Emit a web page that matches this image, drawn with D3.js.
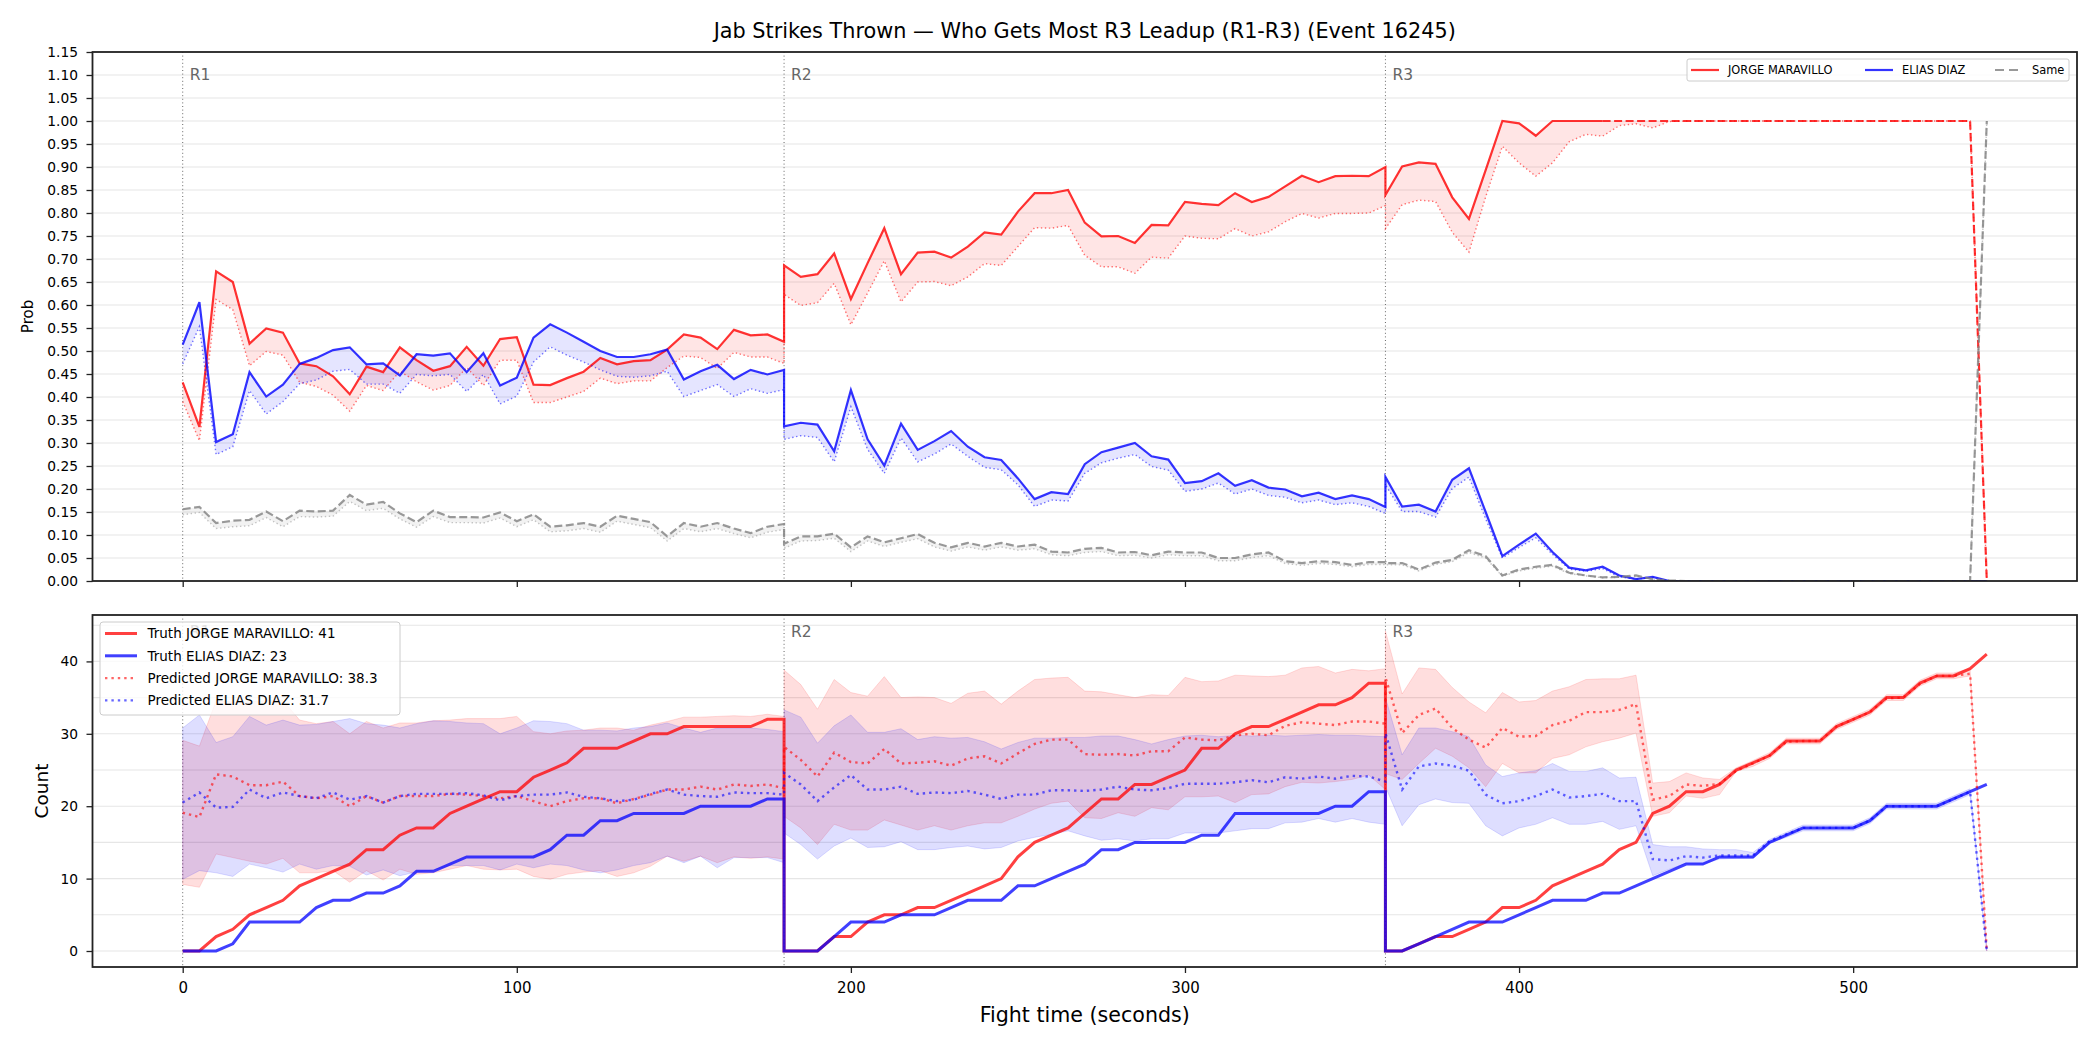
<!DOCTYPE html>
<html>
<head>
<meta charset="utf-8">
<script src="https://cdn.jsdelivr.net/npm/d3@7"></script>
<style>
  body { margin: 0; background: #fff; }
  svg { display: block; font-family: "DejaVu Sans", sans-serif; }
</style>
</head>
<body>
<svg id="chart" width="2100" height="1050"></svg>
<script>
// ---- data ----
var titleText = "Jab Strikes Thrown \u2014 Who Gets Most R3 Leadup (R1-R3) (Event 16245)";
var fighters = ["JORGE MARAVILLO", "ELIAS DIAZ"];
var truthFinal = [41, 23];
var predFinal = [38.3, 31.7];

var roundStart = [0, 180, 360];
var roundNames = ["R1", "R2", "R3"];
var secInRound = [0,5,10,15,20,25,30,35,40,45,50,55,60,65,70,75,80,85,90,95,100,105,110,115,120,125,130,135,140,145,150,155,160,165,170,175,180];
var xTicks = [0, 100, 200, 300, 400, 500];
var probTicks = [0,0.05,0.1,0.15,0.2,0.25,0.3,0.35,0.4,0.45,0.5,0.55,0.6,0.65,0.7,0.75,0.8,0.85,0.9,0.95,1,1.05,1.1,1.15];
var countTicks = [0, 10, 20, 30, 40];
var countGrid = [0, 5, 10, 15, 20, 25, 30, 35, 40, 45];
var redSolidUntil = 425;   // after this the red prob line is drawn dashed

// top panel: win probability (solid/dashed) and predicted (dotted), one line per round
var redProb = [
  0.432,0.335,0.673,0.650,0.516,0.549,0.540,0.473,0.467,0.445,0.406,0.466,0.454,0.508,0.480,0.457,0.467,0.509,0.468,0.526,0.530,0.427,0.426,0.441,0.455,0.485,0.471,0.478,0.480,0.503,0.536,0.529,0.504,0.546,0.534,0.536,0.520,
  0.686,0.661,0.667,0.712,0.613,0.691,0.767,0.667,0.714,0.716,0.703,0.727,0.758,0.753,0.803,0.843,0.843,0.850,0.779,0.749,0.750,0.735,0.774,0.773,0.824,0.820,0.817,0.843,0.824,0.835,0.858,0.881,0.867,0.880,0.881,0.880,0.900,
  0.839,0.901,0.910,0.907,0.834,0.787,0.893,1,0.995,0.968,1,1,1,1,1,1,1,1,1,1,1,1,1,1,1,1,1,1,1,1,1,1,1,1,1,1,0];
var redProbPred = [
  0.390,0.305,0.612,0.590,0.468,0.499,0.491,0.432,0.423,0.404,0.369,0.425,0.414,0.456,0.433,0.415,0.425,0.464,0.425,0.480,0.480,0.388,0.388,0.400,0.412,0.441,0.429,0.435,0.435,0.464,0.489,0.486,0.462,0.497,0.487,0.487,0.473,
  0.623,0.599,0.605,0.647,0.557,0.626,0.696,0.607,0.650,0.651,0.642,0.661,0.690,0.686,0.727,0.768,0.767,0.773,0.708,0.683,0.683,0.669,0.704,0.702,0.750,0.745,0.744,0.766,0.750,0.759,0.781,0.799,0.789,0.799,0.799,0.800,0.816,
  0.766,0.818,0.828,0.825,0.758,0.715,0.835,0.945,0.909,0.880,0.909,0.955,0.971,0.967,0.990,0.994,0.985,0.999,1,1,1,1,1,1,1,1,1,1,1,1,1,1,1,1,1,1,0];
var blueProb = [
  0.514,0.606,0.302,0.319,0.454,0.401,0.427,0.472,0.485,0.502,0.508,0.471,0.473,0.447,0.493,0.490,0.495,0.454,0.495,0.425,0.442,0.529,0.558,0.540,0.520,0.500,0.487,0.487,0.493,0.503,0.438,0.456,0.470,0.439,0.459,0.449,0.459,
  0.336,0.344,0.340,0.282,0.415,0.308,0.251,0.342,0.285,0.304,0.326,0.292,0.269,0.263,0.223,0.178,0.193,0.189,0.254,0.280,0.290,0.300,0.271,0.264,0.213,0.217,0.234,0.207,0.219,0.203,0.199,0.184,0.192,0.178,0.186,0.178,0.161,
  0.226,0.162,0.166,0.151,0.220,0.245,0.150,0.054,0.079,0.103,0.063,0.029,0.023,0.031,0.012,0.004,0.009,0,0,0,0,0,0,0,0,0,0,0,0,0,0,0,0,0,0,0,0];
var blueProbPred = [
  0.472,0.553,0.275,0.292,0.414,0.363,0.390,0.429,0.437,0.456,0.460,0.428,0.428,0.408,0.449,0.446,0.449,0.412,0.449,0.385,0.402,0.476,0.509,0.491,0.476,0.459,0.445,0.443,0.446,0.456,0.401,0.414,0.427,0.401,0.418,0.408,0.416,
  0.308,0.316,0.312,0.259,0.379,0.286,0.234,0.311,0.259,0.276,0.298,0.271,0.247,0.242,0.209,0.162,0.176,0.174,0.234,0.257,0.267,0.275,0.249,0.241,0.195,0.200,0.213,0.189,0.200,0.186,0.182,0.170,0.176,0.166,0.170,0.162,0.147,
  0.209,0.151,0.151,0.139,0.201,0.226,0.135,0.050,0.073,0.094,0.058,0.026,0.021,0.027,0.009,0.004,0.008,0,0,0,0,0,0,0,0,0,0,0,0,0,0,0,0,0,0,0,0];
var sameProb = [
  0.156,0.161,0.126,0.131,0.133,0.151,0.130,0.153,0.151,0.153,0.187,0.166,0.172,0.147,0.128,0.153,0.139,0.139,0.138,0.149,0.130,0.145,0.118,0.121,0.126,0.118,0.142,0.135,0.128,0.097,0.126,0.118,0.126,0.114,0.104,0.118,0.124,
  0.081,0.097,0.097,0.103,0.073,0.097,0.084,0.093,0.102,0.083,0.073,0.083,0.075,0.083,0.075,0.079,0.064,0.062,0.070,0.072,0.062,0.063,0.056,0.064,0.062,0.062,0.050,0.050,0.058,0.062,0.043,0.039,0.043,0.041,0.035,0.041,0.041,
  0.039,0.039,0.025,0.040,0.046,0.067,0.054,0.012,0.025,0.031,0.035,0.018,0.012,0.008,0.009,0.012,0.004,0.001,0,0,0,0,0,0,0,0,0,0,0,0,0,0,0,0,0,0,1];
var sameProbPred = [
  0.144,0.149,0.114,0.118,0.120,0.138,0.118,0.140,0.139,0.141,0.173,0.153,0.158,0.135,0.117,0.140,0.127,0.127,0.126,0.137,0.118,0.133,0.107,0.109,0.114,0.106,0.130,0.123,0.116,0.087,0.114,0.107,0.114,0.103,0.094,0.106,0.112,
  0.071,0.087,0.088,0.093,0.064,0.087,0.075,0.084,0.092,0.074,0.065,0.074,0.067,0.074,0.067,0.070,0.057,0.055,0.062,0.064,0.055,0.056,0.050,0.057,0.055,0.055,0.044,0.044,0.051,0.055,0.038,0.034,0.038,0.036,0.031,0.036,0.036,
  0.035,0.035,0.022,0.036,0.042,0.062,0.050,0.010,0.022,0.028,0.032,0.016,0.011,0.007,0.008,0.011,0.003,0.001,0,0,0,0,0,0,0,0,0,0,0,0,0,0,0,0,0,0,1];

// bottom panel: cumulative counts
var redTruth = [
  0,0,2,3,5,6,7,9,10,11,12,14,14,16,17,17,19,20,21,22,22,24,25,26,28,28,28,29,30,30,31,31,31,31,31,32,32,
  0,0,0,2,2,4,5,5,6,6,7,8,9,10,13,15,16,17,19,21,21,23,23,24,25,28,28,30,31,31,32,33,34,34,35,37,37,
  0,0,1,2,2,3,4,6,6,7,9,10,11,12,14,15,19,20,22,22,23,25,26,27,29,29,29,31,32,33,35,35,37,38,38,39,41];
var blueTruth = [
  0,0,0,1,4,4,4,4,6,7,7,8,8,9,11,11,12,13,13,13,13,13,14,16,16,18,18,19,19,19,19,20,20,20,20,21,21,
  0,0,0,2,4,4,4,5,5,5,6,7,7,7,9,9,10,11,12,14,14,15,15,15,15,16,16,19,19,19,19,19,19,20,20,22,22,
  0,0,1,2,3,4,4,4,5,6,7,7,7,8,8,9,10,11,12,12,13,13,13,15,16,17,17,17,17,18,20,20,20,20,21,22,23];
var redPred = [
  19.1,18.5,24.4,24.1,22.9,22.9,23.4,21.4,21.1,21.4,20.0,21.4,20.5,21.4,21.4,21.4,21.7,21.6,21.4,21.1,21.4,20.7,20.0,20.7,21.1,21.1,20.4,21.0,21.6,22.3,22.3,22.7,22.3,23.0,22.8,23.0,22.5,
  28.2,26.4,24.1,27.4,26.1,25.9,27.9,25.9,26.0,26.2,25.6,26.6,26.9,25.9,27.3,28.6,29.2,29.2,27.2,27.1,27.2,27.0,27.6,27.6,29.5,29.2,29.1,29.8,30.0,29.8,31.1,31.6,31.4,31.2,31.7,31.7,31.4,
  37.8,30.1,32.6,33.5,30.8,29.2,28.1,30.8,29.6,29.7,31.2,31.8,33.0,33.0,33.3,34.1,20.9,21.4,23.0,22.8,23.1,24.9,25.9,27.0,28.9,29.0,29.0,31.0,32.0,33.0,34.9,35.0,36.9,38.0,38.0,38.3,0];
var bluePred = [
  20.5,21.9,19.8,19.9,22.3,21.1,21.9,21.4,21.1,21.9,20.9,21.4,20.5,21.4,21.7,21.7,21.7,21.8,21.5,20.8,21.4,21.6,21.6,21.9,21.3,21.1,20.7,20.9,21.7,22.3,21.6,21.4,21.3,21.9,21.8,21.8,21.6,
  24.6,23.0,20.7,22.6,24.3,22.3,22.3,22.7,21.7,21.9,21.8,22.1,21.6,21.0,21.6,21.6,22.2,22.2,22.1,22.3,22.7,22.3,22.2,22.5,23.1,23.1,23.1,23.3,23.6,23.3,24.0,23.8,24.1,23.8,24.2,24.1,23.4,
  30.1,22.3,25.5,25.9,25.6,24.9,21.6,20.4,20.7,21.4,22.3,21.2,21.4,21.7,20.7,20.7,12.7,12.5,13.1,12.9,13.2,13.2,13.2,15.2,16.1,17.0,17.0,17.0,17.0,18.0,20.0,20.0,20.0,20.0,21.0,22.0,0];
var redBandHi = [
  29.1,28.3,34.6,34.4,34.4,34.6,34.6,31.9,31.4,31.7,30.0,31.7,30.8,31.5,31.5,31.8,31.9,32.1,32.1,32.1,32.4,30.3,30.0,30.4,30.5,30.8,30.8,30.5,31.2,31.7,32.3,32.3,32.4,32.5,32.4,32.7,32.4,
  38.8,36.8,33.4,37.5,35.7,35.2,37.9,35.0,35.1,35.0,34.2,35.6,35.9,34.1,35.9,37.5,37.7,37.8,35.9,35.8,35.4,35.0,35.4,35.3,37.8,37.2,37.3,38.1,38.0,37.9,38.1,39.1,39.3,38.4,38.9,38.7,39.0,
  44.2,35.5,39.1,38.9,36.4,34.4,32.9,35.7,34.4,34.6,35.9,36.5,37.5,37.6,37.6,38.1,23.2,23.4,24.6,23.9,23.7,25.3,26.3,27.4,29.4,29.4,29.4,31.4,32.4,33.4,35.4,35.4,37.4,38.4,38.4,39.0,0];
var redBandLo = [
  9.2,8.8,13.4,12.9,12.4,12.0,12.8,10.8,10.8,11.1,9.5,11.1,9.8,11.3,10.6,10.8,11.3,11.8,11.3,11.2,11.3,10.3,9.9,10.6,10.9,11.1,10.3,10.8,11.7,13.1,12.4,13.1,12.2,13.0,12.8,13.0,12.7,
  18.6,17.0,14.7,17.5,16.7,16.7,18.1,17.4,16.7,17.3,16.7,17.3,17.7,17.7,18.6,19.6,20.4,20.7,18.4,18.3,19.1,18.6,19.8,19.5,21.3,21.3,21.4,20.5,21.6,21.7,22.7,23.3,23.2,23.4,23.7,24.3,22.3,
  24.5,23.7,25.9,28.0,26.9,25.3,22.7,25.9,24.6,24.6,26.6,27.1,28.2,28.9,29.4,30.1,18.6,19.1,21.4,21.1,21.6,24.8,25.5,26.6,28.6,28.6,28.6,30.6,31.6,32.6,34.6,34.6,36.6,37.6,37.6,38.0,0];
var blueBandHi = [
  30.8,32.6,28.8,29.6,32.4,31.2,31.9,31.2,31.3,31.7,32.1,31.4,31.2,30.8,31.4,31.8,31.7,31.5,31.4,30.0,30.8,31.8,31.7,31.4,30.5,30.5,30.4,30.8,31.0,31.5,30.8,30.2,30.8,30.8,30.8,30.6,30.3,
  33.3,32.3,28.7,31.1,32.6,30.2,30.2,30.7,29.2,29.6,29.4,29.5,28.9,27.9,28.8,29.4,29.4,29.5,29.5,29.7,29.7,29.2,28.6,29.2,29.7,29.8,29.6,29.8,29.7,29.8,29.7,29.8,29.9,29.8,29.8,29.7,29.6,
  35.0,27.1,30.8,30.8,30.3,29.6,25.7,24.1,24.6,24.9,25.9,24.8,24.8,25.3,23.9,24.0,14.7,14.4,14.4,14.1,14.0,14.0,13.6,15.4,16.4,17.4,17.4,17.4,17.4,18.4,20.4,20.4,20.4,20.4,21.4,22.4,0];
var blueBandLo = [
  9.9,11.1,10.8,10.3,12.0,11.5,10.9,12.0,11.3,11.8,11.7,10.5,11.2,10.4,10.9,11.2,11.8,11.8,11.8,11.2,12.0,11.5,12.0,11.8,11.2,10.8,11.2,11.8,12.2,13.1,12.2,13.1,11.5,12.9,12.9,12.9,12.2,
  16.3,14.7,12.7,14.5,15.6,14.3,14.4,15.1,14.0,14.0,14.3,14.5,14.1,14.3,15.2,15.7,16.1,16.6,15.9,15.3,15.5,15.2,15.5,15.5,16.3,16.3,16.3,16.6,16.9,16.9,17.7,17.8,18.3,17.8,18.3,17.8,17.5,
  22.7,17.3,20.2,21.0,20.5,20.4,17.3,15.9,17.0,17.5,18.4,17.5,17.5,17.9,16.8,17.3,10.4,11.3,12.1,12.0,12.7,12.8,12.8,14.9,15.7,16.6,16.6,16.6,16.6,17.6,19.6,19.6,19.6,19.6,20.6,21.6,0];

// fight time of every sample (each round repeats its boundary second)
var time = [];
roundStart.forEach(function(s) {
    secInRound.forEach(function(o) { time.push(s + o); });
});

// ---- layout ----
var W = 2100, H = 1050;
var L = 92.5, R = 2077;
var top1 = 52, bot1 = 581, top2 = 615, bot2 = 967;
var RED = "#ff0000", BLUE = "#0000ff", GRAY = "#808080";

var svg = d3.select("#chart");
svg.append("rect").attr("width", W).attr("height", H).attr("fill", "#fff");

function pad(ext) {
    var m = (ext[1] - ext[0]) * 0.05;
    return [ext[0] - m, ext[1] + m];
}

var x = d3.scaleLinear().domain(pad(d3.extent(time))).range([L, R]);
var yTop = d3.scaleLinear().domain([0, 1.15]).range([bot1, top1]);
var allCounts = redTruth.concat(blueTruth, redPred, bluePred, redBandHi, redBandLo, blueBandHi, blueBandLo);
var yBot = d3.scaleLinear().domain(pad(d3.extent(allCounts))).range([bot2, top2]);

svg.append("text")
    .attr("x", (L + R) / 2).attr("y", 38)
    .attr("text-anchor", "middle")
    .attr("font-size", "20.8px")
    .attr("fill", "#000")
    .text(titleText);

var defs = svg.append("defs");
defs.append("clipPath").attr("id", "clipTop").append("rect")
    .attr("x", L).attr("y", top1).attr("width", R - L).attr("height", bot1 - top1);
defs.append("clipPath").attr("id", "clipBot").append("rect")
    .attr("x", L).attr("y", top2).attr("width", R - L).attr("height", bot2 - top2);

function lineOf(y, vals, def) {
    return d3.line()
        .defined(function(d, i) { return def ? def(i) : true; })
        .x(function(d, i) { return x(time[i]); })
        .y(function(d) { return y(d); })(vals);
}
function areaOf(y, hi, lo) {
    return d3.area()
        .x(function(d, i) { return x(time[i]); })
        .y0(function(d, i) { return y(lo[i]); })
        .y1(function(d) { return y(d); })(hi);
}

// grid, round markers, axes
function background(y, y0, y1, gridVals, clip) {
    var g = svg.append("g");
    g.selectAll("line.grid").data(gridVals).join("line")
        .attr("class", "grid")
        .attr("x1", L).attr("x2", R)
        .attr("y1", function(d) { return y(d); }).attr("y2", function(d) { return y(d); })
        .attr("stroke", "#e6e6e6").attr("stroke-width", 1.1);
    g.selectAll("line.round").data(roundStart).join("line")
        .attr("class", "round")
        .attr("x1", function(d) { return x(d); }).attr("x2", function(d) { return x(d); })
        .attr("y1", y0).attr("y2", y1)
        .attr("stroke", "#666").attr("stroke-width", 1)
        .attr("stroke-dasharray", "1,2.6");
    g.selectAll("text.round").data(roundStart).join("text")
        .attr("class", "round")
        .attr("x", function(d) { return x(d) + 7; })
        .attr("y", y0 + 0.03 * (y1 - y0) + 11.8)
        .attr("font-size", "15.5px")
        .attr("fill", "#666")
        .text(function(d, i) { return roundNames[i]; });
    return svg.append("g").attr("clip-path", "url(#" + clip + ")");
}

function axes(y, y0, y1, yTicks, yFmt, fsY, xLabels) {
    var ay = svg.append("g").attr("transform", "translate(" + L + ",0)")
        .call(d3.axisLeft(y).tickValues(yTicks).tickFormat(yFmt).tickSize(6).tickPadding(8.5));
    var ax = svg.append("g").attr("transform", "translate(0," + y1 + ")")
        .call(d3.axisBottom(x).tickValues(xTicks).tickSize(6).tickPadding(9)
            .tickFormat(xLabels ? d3.format("d") : function() { return ""; }));
    [ay, ax].forEach(function(a) {
        a.select(".domain").remove();
        a.selectAll(".tick line").attr("stroke", "#222").attr("stroke-width", 1.3);
        a.selectAll(".tick text").attr("fill", "#000").attr("font-family", "DejaVu Sans");
    });
    ay.selectAll(".tick text").attr("font-size", fsY + "px");
    ax.selectAll(".tick text").attr("font-size", "15px");
    svg.append("rect")
        .attr("x", L).attr("y", y0).attr("width", R - L).attr("height", y1 - y0)
        .attr("fill", "none").attr("stroke", "#222").attr("stroke-width", 1.8);
}

// ---- top panel ----
var gTop = background(yTop, top1, bot1, probTicks, "clipTop");

[[redProb, redProbPred, RED], [blueProb, blueProbPred, BLUE], [sameProb, sameProbPred, GRAY]]
    .forEach(function(s) {
        gTop.append("path").attr("d", areaOf(yTop, s[0], s[1]))
            .attr("fill", s[2]).attr("fill-opacity", 0.1).attr("stroke", "none");
    });

function predLine(g, y, vals, color, w, dash, op) {
    g.append("path").attr("d", lineOf(y, vals))
        .attr("fill", "none").attr("stroke", color).attr("stroke-width", w)
        .attr("stroke-opacity", op).attr("stroke-dasharray", dash);
}

predLine(gTop, yTop, redProbPred, RED, 1.4, "1.4,2.6", 0.55);
gTop.append("path")
    .attr("d", lineOf(yTop, redProb, function(i) { return time[i] <= redSolidUntil; }))
    .attr("fill", "none").attr("stroke", RED).attr("stroke-opacity", 0.8).attr("stroke-width", 2.2);
gTop.append("path")
    .attr("d", lineOf(yTop, redProb, function(i) { return time[i] >= redSolidUntil; }))
    .attr("fill", "none").attr("stroke", RED).attr("stroke-opacity", 0.8).attr("stroke-width", 2.2)
    .attr("stroke-dasharray", "8,3.5");

predLine(gTop, yTop, blueProbPred, BLUE, 1.4, "1.4,2.6", 0.55);
gTop.append("path").attr("d", lineOf(yTop, blueProb))
    .attr("fill", "none").attr("stroke", BLUE).attr("stroke-opacity", 0.8).attr("stroke-width", 2.2);

predLine(gTop, yTop, sameProbPred, GRAY, 1.4, "1.4,2.6", 0.45);
gTop.append("path").attr("d", lineOf(yTop, sameProb))
    .attr("fill", "none").attr("stroke", GRAY).attr("stroke-opacity", 0.8).attr("stroke-width", 2.2)
    .attr("stroke-dasharray", "8,3.5");

axes(yTop, top1, bot1, probTicks, d3.format(".2f"), 13.8, false);

svg.append("text")
    .attr("transform", "translate(28," + ((top1 + bot1) / 2) + ") rotate(-90)")
    .attr("text-anchor", "middle").attr("dy", "0.35em")
    .attr("font-size", "15px").attr("fill", "#000")
    .text("Prob");

// top legend
var lgTop = svg.append("g");
lgTop.append("rect")
    .attr("x", 1687).attr("y", 59).attr("width", 382).attr("height", 22).attr("rx", 2)
    .attr("fill", "#fff").attr("fill-opacity", 0.8).attr("stroke", "#ccc").attr("stroke-width", 1);
var topItems = [
    { label: fighters[0], color: RED, dash: null, x: 1691, tx: 1728, w: 28 },
    { label: fighters[1], color: BLUE, dash: null, x: 1865, tx: 1902, w: 28 },
    { label: "Same", color: GRAY, dash: "9,5", x: 1995, tx: 2032, w: 23 }
];
topItems.forEach(function(it) {
    lgTop.append("line")
        .attr("x1", it.x).attr("x2", it.x + it.w).attr("y1", 70).attr("y2", 70)
        .attr("stroke", it.color).attr("stroke-opacity", 0.8).attr("stroke-width", 2.2)
        .attr("stroke-dasharray", it.dash);
    lgTop.append("text")
        .attr("x", it.tx).attr("y", 70).attr("dy", "0.35em")
        .attr("font-size", "11.4px").attr("fill", "#000")
        .text(it.label);
});

// ---- bottom panel ----
var gBot = background(yBot, top2, bot2, countGrid, "clipBot");

[[redBandHi, redBandLo, RED], [blueBandHi, blueBandLo, BLUE]].forEach(function(s) {
    gBot.append("path").attr("d", areaOf(yBot, s[0], s[1]))
        .attr("fill", s[2]).attr("fill-opacity", 0.13)
        .attr("stroke", s[2]).attr("stroke-opacity", 0.13).attr("stroke-width", 1);
});

gBot.append("path").attr("d", lineOf(yBot, redTruth))
    .attr("fill", "none").attr("stroke", RED).attr("stroke-opacity", 0.75).attr("stroke-width", 3);
gBot.append("path").attr("d", lineOf(yBot, blueTruth))
    .attr("fill", "none").attr("stroke", BLUE).attr("stroke-opacity", 0.75).attr("stroke-width", 3);
predLine(gBot, yBot, redPred, RED, 2.4, "2.4,4", 0.6);
predLine(gBot, yBot, bluePred, BLUE, 2.4, "2.4,4", 0.6);

axes(yBot, top2, bot2, countTicks, d3.format("d"), 13.8, true);

svg.append("text")
    .attr("transform", "translate(41.5," + ((top2 + bot2) / 2) + ") rotate(-90)")
    .attr("text-anchor", "middle").attr("dy", "0.35em")
    .attr("font-size", "18.5px").attr("fill", "#000")
    .text("Count");

svg.append("text")
    .attr("x", (L + R) / 2).attr("y", 1015).attr("dy", "0.35em")
    .attr("text-anchor", "middle")
    .attr("font-size", "20.6px").attr("fill", "#000")
    .text("Fight time (seconds)");

// bottom legend
var lgBot = svg.append("g");
lgBot.append("rect")
    .attr("x", 100).attr("y", 622).attr("width", 300).attr("height", 93).attr("rx", 3)
    .attr("fill", "#fff").attr("fill-opacity", 0.8).attr("stroke", "#ccc").attr("stroke-width", 1);
var botItems = [
    { label: "Truth " + fighters[0] + ": " + truthFinal[0], color: RED, pred: false },
    { label: "Truth " + fighters[1] + ": " + truthFinal[1], color: BLUE, pred: false },
    { label: "Predicted " + fighters[0] + ": " + predFinal[0], color: RED, pred: true },
    { label: "Predicted " + fighters[1] + ": " + predFinal[1], color: BLUE, pred: true }
];
botItems.forEach(function(it, i) {
    var yy = 633.5 + i * 22.3;
    lgBot.append("line")
        .attr("x1", 105).attr("x2", 137).attr("y1", yy).attr("y2", yy)
        .attr("stroke", it.color)
        .attr("stroke-opacity", it.pred ? 0.6 : 0.75)
        .attr("stroke-width", it.pred ? 2.4 : 3)
        .attr("stroke-dasharray", it.pred ? "2.4,4" : null);
    lgBot.append("text")
        .attr("x", 147.5).attr("y", yy).attr("dy", "0.35em")
        .attr("font-size", "13.5px").attr("fill", "#000")
        .text(it.label);
});
</script>
</body>
</html>
